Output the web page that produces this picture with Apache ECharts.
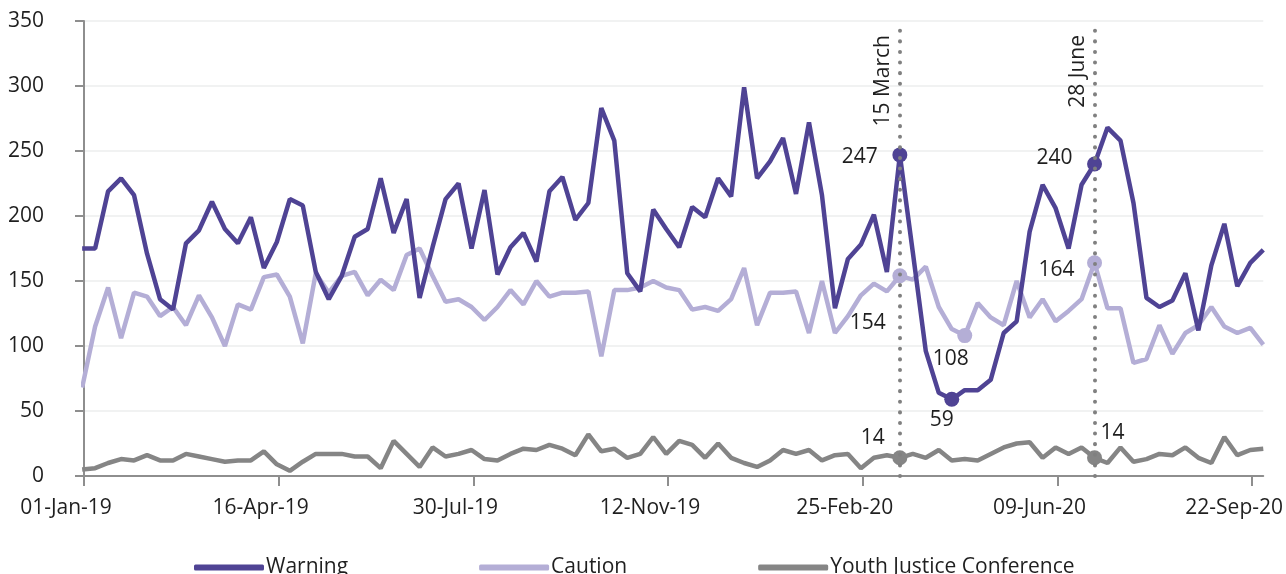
<!DOCTYPE html>
<html>
<head>
<meta charset="utf-8">
<script src="https://cdn.jsdelivr.net/npm/echarts@6/dist/echarts.min.js"></script>
<style>
  html, body { margin: 0; padding: 0; background: #fff; }
  #chart { width: 1286px; height: 574px; }
</style>
</head>
<body>
<div id="chart"></div>
<script>
// weekly counts; x is days counted from 01-Jan-19
const startDay = -1;
const warning = [175, 175, 219, 229, 216, 171, 136, 128, 179, 189, 211, 190, 179, 199, 160, 180,
  213, 208, 157, 136, 154, 184, 190, 229, 187, 213, 137, 176, 213, 225, 175, 220,
  155, 176, 187, 165, 219, 230, 197, 210, 283, 258, 156, 142, 205, 190, 176, 207,
  199, 229, 215, 299, 229, 242, 260, 217, 272, 216, 129, 167, 178, 201, 157, 247,
  172, 96, 64, 59, 66, 66, 74, 110, 119, 188, 224, 206, 175, 224, 240, 268,
  258, 210, 137, 130, 135, 156, 112, 162, 194, 146, 164, 174];
const caution = [68, 115, 145, 106, 141, 138, 123, 130, 116, 139, 122, 100, 132, 128, 153, 155,
  138, 102, 156, 141, 154, 157, 139, 151, 143, 170, 175, 154, 134, 136, 130, 120,
  130, 143, 132, 150, 138, 141, 141, 142, 92, 143, 143, 145, 150, 145, 143, 128,
  130, 127, 136, 160, 116, 141, 141, 142, 110, 150, 110, 123, 139, 148, 142, 154,
  151, 161, 130, 113, 108, 133, 122, 116, 150, 122, 136, 119, 127, 136, 164, 129,
  129, 87, 90, 116, 94, 110, 116, 130, 115, 110, 114, 101];
const yjc = [5, 6, 10, 13, 12, 16, 12, 12, 17, 15, 13, 11, 12, 12, 19, 9,
  4, 11, 17, 17, 17, 15, 15, 6, 27, 17, 7, 22, 15, 17, 20, 13,
  12, 17, 21, 20, 24, 21, 16, 32, 19, 21, 14, 17, 30, 17, 27, 24,
  14, 25, 14, 10, 7, 12, 20, 17, 20, 12, 16, 17, 6, 14, 16, 14,
  17, 14, 20, 12, 13, 12, 17, 22, 25, 26, 14, 22, 17, 22, 14, 10,
  22, 11, 13, 17, 16, 22, 14, 10, 30, 16, 20, 21];

const tickDays = [0, 105, 210, 315, 420, 525, 630];
const tickLabels = ['01-Jan-19', '16-Apr-19', '30-Jul-19', '12-Nov-19', '25-Feb-20', '09-Jun-20', '22-Sep-20'];

// reference weeks (index into the arrays)
const events = [{ idx: 63, name: '15 March' }, { idx: 78, name: '28 June' }];
const warningMarks = [63, 67, 78];
const cautionMarks = [63, 68, 78];
const yjcMarks = [63, 78];

const days = warning.map((v, i) => startDay + 7 * i);
const pairs = arr => arr.map((v, i) => [days[i], v]);

const colors = { warning: '#4f4394', caution: '#b4aed6', yjc: '#858585' };
const txt = '#1f1f1f';
const font = 'Open Sans';

function marks(arr, idxs, color, offsets) {
  return {
    symbol: 'circle',
    symbolSize: 15,
    silent: true,
    animation: false,
    itemStyle: { color: color },
    label: { show: true, color: txt, fontSize: 21, fontFamily: font },
    data: idxs.map((ix, j) => ({
      coord: [days[ix], arr[ix]],
      value: arr[ix],
      label: { position: 'inside', offset: offsets[j] }
    }))
  };
}

const chart = echarts.init(document.getElementById('chart'));
chart.setOption({
  animation: false,
  textStyle: { fontFamily: font },
  grid: { left: 84, right: 20, top: 21, bottom: 98 },
  legend: {
    data: ['Warning', 'Caution', 'Youth Justice Conference'],
    left: 189,
    top: 552,
    icon: 'roundRect',
    itemWidth: 70,
    itemHeight: 6,
    itemGap: 131,
    textStyle: { fontSize: 21, color: txt, fontFamily: font, padding: [0, 0, 0, -3] }
  },
  xAxis: {
    type: 'value',
    min: 0,
    max: days[days.length - 1],
    splitLine: { show: false },
    axisLine: { lineStyle: { color: '#8e8e8e', width: 2 } },
    axisTick: { customValues: tickDays, length: 10, lineStyle: { color: '#8e8e8e', width: 2 } },
    axisLabel: {
      customValues: tickDays,
      formatter: v => tickLabels[tickDays.indexOf(v)] || '',
      fontSize: 21, color: txt, margin: 22, padding: [0, 36, 0, 0]
    }
  },
  yAxis: {
    type: 'value',
    min: 0,
    max: 350,
    interval: 50,
    axisLine: { show: true, lineStyle: { color: '#8e8e8e', width: 2 } },
    axisTick: { show: true, length: 9, lineStyle: { color: '#8e8e8e', width: 2 } },
    splitLine: { lineStyle: { color: '#f1f2f2', width: 2 } },
    axisLabel: { fontSize: 21, color: txt, margin: 40 }
  },
  series: [
    {
      name: 'Youth Justice Conference', type: 'line', data: pairs(yjc),
      showSymbol: false, z: 2,
      lineStyle: { color: colors.yjc, width: 4.5 }, itemStyle: { color: colors.yjc },
      markPoint: marks(yjc, yjcMarks, colors.yjc, [[-27, -20], [18, -25]])
    },
    {
      name: 'Caution', type: 'line', data: pairs(caution),
      showSymbol: false, z: 3,
      lineStyle: { color: colors.caution, width: 4.5 }, itemStyle: { color: colors.caution },
      markPoint: marks(caution, cautionMarks, colors.caution, [[-32, 47], [-14, 23], [-38, 7]])
    },
    {
      name: 'Warning', type: 'line', data: pairs(warning),
      showSymbol: false, z: 4,
      lineStyle: { color: colors.warning, width: 4.5 }, itemStyle: { color: colors.warning },
      markPoint: marks(warning, warningMarks, colors.warning, [[-40, 2], [-10, 21], [-40, -6]]),
      markLine: {
        silent: true,
        animation: false,
        symbol: ['none', 'none'],
        z: 10,
        lineStyle: { color: '#808080', width: 4, type: [0.1, 10.5], cap: 'round' },
        label: {
          show: true, position: 'insideEndTop', distance: [14, 6],
          fontSize: 21, color: txt, fontFamily: font,
          formatter: p => p.name
        },
        data: events.map(e => [
          { name: e.name, coord: [days[e.idx], 0] },
          { coord: [days[e.idx], 350] }
        ])
      }
    }
  ]
});
</script>
</body>
</html>
